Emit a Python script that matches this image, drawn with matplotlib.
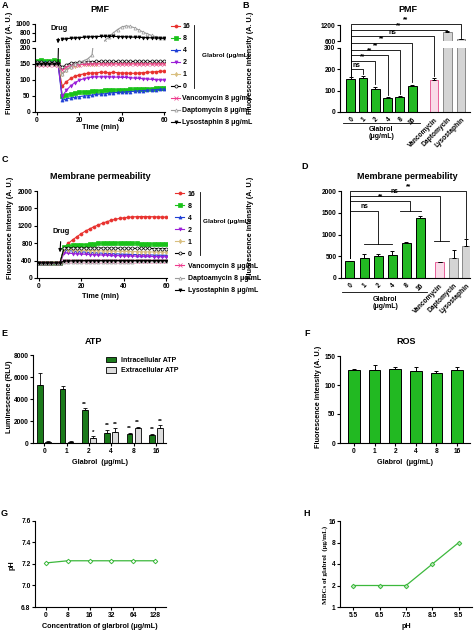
import numpy as np
import matplotlib
matplotlib.use("Agg")
import matplotlib.pyplot as plt
import matplotlib.transforms as mtransforms
from matplotlib.lines import Line2D

plt.rcParams["font.family"] = ["Liberation Sans", "DejaVu Sans"]
plt.rcParams["font.weight"] = "bold"
plt.rcParams["axes.linewidth"] = 0.8
plt.rcParams["xtick.major.width"] = 0.8
plt.rcParams["ytick.major.width"] = 0.8
plt.rcParams["xtick.major.size"] = 2
plt.rcParams["ytick.major.size"] = 2
plt.rcParams["xtick.major.pad"] = 1.5
plt.rcParams["ytick.major.pad"] = 1.2
plt.rcParams["xtick.labelsize"] = 4.8
plt.rcParams["ytick.labelsize"] = 4.8

# ---------------- data ----------------
time_min = [0, 2, 4, 6, 8, 10, 12, 14, 16, 18, 20, 22, 24, 26, 28, 30,
            32, 34, 36, 38, 40, 42, 44, 46, 48, 50, 52, 54, 56, 58, 60]

# A: PMF kinetics
pmf_16 = [150,151,150,151,150,149, 80,95,105,112,116,119,121,122,123,124,124,123,124,123,122,122,121,121,122,123,124,125,126,127,128]
pmf_8 = [160,161,160,160,161,158, 50,54,57,59,61,63,64,65,66,67,68,68,69,69,70,70,71,71,72,72,73,73,74,74,75]
pmf_4 = [155,156,155,155,156,153, 37,41,44,46,48,50,51,53,55,56,57,59,60,61,62,63,64,65,66,67,68,69,70,71,72]
pmf_2 = [152,152,151,152,151,150, 50,68,82,92,99,104,107,109,110,110,110,110,109,109,108,108,107,106,105,104,103,102,101,101,100]
pmf_1 = [150,150,149,150,150,148, 120,132,140,144,147,149,150,151,151,152,152,152,152,152,152,152,152,152,152,152,152,152,152,152,152]
pmf_0 = [155,155,154,155,155,153, 140,148,152,154,155,156,157,157,158,158,158,158,158,158,158,158,158,158,158,158,158,158,158,158,158]
pmf_vanco = [148,148,147,148,148,146, 130,140,145,147,148,149,149,150,150,150,150,150,150,150,150,150,150,150,150,150,150,150,150,150,150]
pmf_dapto = [150,150,150,150,150,149, 118,132,142,150,155,160,166,178,300,460,610,700,790,870,930,955,945,910,860,810,770,730,700,680,665]
pmf_lyso = [150,150,150,150,150,150, 640,655,665,672,680,688,695,700,705,708,710,710,708,705,702,698,694,690,686,682,678,674,670,666,662]

# C: membrane permeability kinetics
mp_16 = [345,346,344,345,346,345, 700,800,880,950,1020,1080,1130,1180,1220,1260,1295,1325,1350,1370,1385,1395,1405,1410,1412,1412,1410,1408,1405,1402,1400]
mp_8 = [350,350,349,350,351,350, 720,740,750,755,760,768,775,785,795,800,805,808,810,810,808,805,800,797,793,790,786,782,778,775,772]
mp_4 = [348,347,348,347,348,348, 640,630,620,610,602,595,588,582,576,570,565,560,556,552,548,545,541,538,535,532,530,528,526,524,522]
mp_2 = [346,346,345,346,346,346, 580,570,562,555,550,545,540,536,532,528,524,520,517,514,511,508,505,502,500,498,496,494,492,490,488]
mp_1 = [352,352,351,352,352,352, 660,655,650,645,640,636,632,628,625,622,620,618,616,614,612,610,608,606,604,602,600,598,596,594,592]
mp_0 = [350,350,350,350,350,350, 700,695,692,690,690,690,690,690,690,690,688,688,686,686,684,684,682,682,680,680,680,678,678,676,676]
mp_vanco = [344,344,343,344,344,344, 380,382,383,384,385,385,386,386,386,386,386,386,386,386,386,386,386,386,386,386,386,386,386,386,386]
mp_dapto = [342,342,342,342,342,342, 370,372,373,374,375,376,376,377,377,378,378,378,378,378,379,379,379,380,380,380,380,380,380,380,380]
mp_lyso = [348,348,348,348,348,348, 390,395,398,400,400,401,402,402,402,402,402,402,402,402,402,402,402,402,402,402,402,402,402,402,402]

# B / D: end-point bars
bar_labels = ["0", "1", "2", "4", "8", "16", "Vancomycin", "Daptomycin", "Lysostaphin"]
pmf_bar = [155, 158, 107, 65, 70, 123, 150, 950, 660]
pmf_err = [7, 10, 10, 4, 4, 5, 8, 30, 30]
pmf_sig = ["ns", "**", "**", "**", "**", "ns", "**", "**"]
mp_bar = [380, 460, 510, 540, 810, 1390, 360, 460, 740]
mp_err = [20, 90, 50, 70, 20, 40, 10, 180, 150]

# E: ATP
dose_labels = ["0", "1", "2", "4", "8", "16"]
atp_intra = [5270, 4880, 3000, 940, 850, 700]
atp_intra_err = [1120, 300, 150, 240, 100, 130]
atp_extra = [130, 110, 480, 1030, 1330, 1400]
atp_extra_err = [60, 50, 120, 300, 150, 200]
atp_intra_sig = ["", "", "**", "**", "**", "**"]
atp_extra_sig = ["", "", "*", "**", "**", "**"]

# F: ROS
ros = [126, 126, 128, 125, 121, 126]
ros_err = [2, 8, 3, 6, 3, 5]

# G: pH vs glabrol
ph_conc = ["0", "8", "16", "32", "64", "128"]
ph_val = [7.21, 7.23, 7.23, 7.23, 7.23, 7.23]

# H: MBC vs pH
mbc_ph = [5.5, 6.5, 7.5, 8.5, 9.5]
mbc_val = [2, 2, 2, 4, 8]

# ---------------- figure ----------------
W, H = 474, 631
fig = plt.figure(figsize=(W / 100, H / 100), dpi=100)


def box(l, t, r, b):
    return [l / W, 1 - b / H, (r - l) / W, (b - t) / H]


def ftext(x, y, s, **kw):
    kw.setdefault("ha", "center")
    kw.setdefault("va", "center")
    fig.text(x / W, 1 - y / H, s, **kw)


def prism(ax, bottom=True):
    ax.spines["top"].set_visible(False)
    ax.spines["right"].set_visible(False)
    if not bottom:
        ax.spines["bottom"].set_visible(False)
        ax.tick_params(axis="x", bottom=False, labelbottom=False)
    ax.tick_params(direction="out")


green = "#22b922"
series_names = ["16", "8", "4", "2", "1", "0"]
ctrl_names_a = ["Vancomycin 8 \u03bcg/mL", "Daptomycin 8 \u03bcg/mL", "Lysostaphin 8 \u03bcg/mL"]
ctrl_names_c = ["Vancomycin 8 \u03bcg/mL", "Daptoamycin 8 \u03bcg/mL", "Lysostaphin 8 \u03bcg/mL"]
styles = [
    dict(color="#e8322f", marker="o", mfc="#e8322f"),
    dict(color="#19c219", marker="s", mfc="#19c219"),
    dict(color="#1f3fd6", marker="^", mfc="#1f3fd6"),
    dict(color="#9b1fd8", marker="v", mfc="#9b1fd8"),
    dict(color="#d9bf80", marker="d", mfc="#d9bf80"),
    dict(color="black", marker="o", mfc="white"),
    dict(color="#ee3b8e", marker="x", mfc="#ee3b8e"),
    dict(color="#9a9a9a", marker="^", mfc="white"),
    dict(color="black", marker="v", mfc="black"),
]

# ---------- A ----------
pmf_series = [pmf_16, pmf_8, pmf_4, pmf_2, pmf_1, pmf_0, pmf_vanco, pmf_dapto, pmf_lyso]
ax_at = fig.add_axes(box(35, 24, 165, 41))
ax_ab = fig.add_axes(box(35, 48, 165, 112))
ax_at.patch.set_visible(False)
handles = []
for ys, st in zip(pmf_series, styles):
    for ax in (ax_at, ax_ab):
        ln, = ax.plot(time_min, ys, lw=0.8, ms=2.2, mew=0.5, **st)
    handles.append(ln)
for ax in (ax_at, ax_ab):
    ax.set_xlim(-0.8, 60.3)
ax_at.set_ylim(600, 1000)
ax_at.set_yticks([600, 800, 1000])
ax_ab.set_ylim(0, 200)
ax_ab.set_yticks([0, 50, 100, 150, 200])
ax_ab.set_xticks([0, 20, 40, 60])
prism(ax_at, bottom=False)
prism(ax_ab)
ax_at.annotate("Drug", xy=(10, 545), xytext=(10.4, 890), ha="center", va="center",
               fontsize=5.3, annotation_clip=False,
               arrowprops=dict(arrowstyle="-|>,head_width=0.18,head_length=0.35",
                               color="black", lw=0.8, shrinkA=2.5, shrinkB=0))
ax_ab.legend(handles, series_names + ctrl_names_a, loc="upper left",
             bbox_to_anchor=(171 / W, 1 - 23.5 / H), bbox_transform=fig.transFigure,
             frameon=False, fontsize=5, handlelength=1.3, handletextpad=0.35,
             labelspacing=0.71, borderpad=0, borderaxespad=0)
fig.add_artist(Line2D([194 / W, 194 / W], [1 - 25 / H, 1 - 88 / H], color="black", lw=0.6))
ftext(202, 55, "Glabrol (\u03bcg/mL)", ha="left", fontsize=4.6)
ftext(100, 10, "PMF", fontsize=6.5)
ftext(5, 5, "A", fontsize=6.5)
ftext(10, 63, "Fluorescence intensity (A. U.)", rotation=90, fontsize=5.2)
ftext(100, 127, "Time (min)", fontsize=5.2)

# ---------- C ----------
mp_series = [mp_16, mp_8, mp_4, mp_2, mp_1, mp_0, mp_vanco, mp_dapto, mp_lyso]
ax_c = fig.add_axes(box(37, 191, 167, 278))
handles = []
for ys, st in zip(mp_series, styles):
    ln, = ax_c.plot(time_min, ys, lw=0.8, ms=2.2, mew=0.5, **st)
    handles.append(ln)
ax_c.set_xlim(-0.8, 60.3)
ax_c.set_ylim(0, 2000)
ax_c.set_yticks([0, 400, 800, 1200, 1600, 2000])
ax_c.set_xticks([0, 20, 40, 60])
prism(ax_c)
ax_c.annotate("Drug", xy=(10, 590), xytext=(10.6, 1060), ha="center", va="center",
              fontsize=5.3, annotation_clip=False,
              arrowprops=dict(arrowstyle="-|>,head_width=0.18,head_length=0.35",
                              color="black", lw=0.8, shrinkA=2.5, shrinkB=0))
ax_c.legend(handles, series_names + ctrl_names_c, loc="upper left",
            bbox_to_anchor=(175 / W, 1 - 190.5 / H), bbox_transform=fig.transFigure,
            frameon=False, fontsize=5, handlelength=1.3, handletextpad=0.5,
            labelspacing=0.73, borderpad=0, borderaxespad=0)
fig.add_artist(Line2D([200 / W, 200 / W], [1 - 192 / H, 1 - 255 / H], color="black", lw=0.6))
ftext(203, 222, "Glabrol (\u03bcg/mL)", ha="left", fontsize=4.6)
ftext(100, 176, "Membrane permeability", fontsize=6.5)
ftext(5, 160, "C", fontsize=6.5)
ftext(11, 228, "Fluorescence intensity (A. U.)", rotation=90, fontsize=5.2)
ftext(100, 296, "Time (min)", fontsize=5.2)

# ---------- B ----------
bx = [0, 1, 2, 3, 4, 5, 6.77, 7.85, 8.97]
fills = [green] * 6 + ["#f9dbe8", "#d4d4d4", "#d4d4d4"]
edges = ["black"] * 6 + ["#e8609a", "#8a8a8a", "#8a8a8a"]
ax_bt = fig.add_axes(box(340, 25, 470, 41))
ax_bb = fig.add_axes(box(340, 48, 470, 112))
ax_bt.patch.set_visible(False)
for ax in (ax_bt, ax_bb):
    ax.bar(bx, pmf_bar, width=0.72, color=fills, edgecolor=edges, linewidth=0.7)
    ax.errorbar(bx, pmf_bar, yerr=[[0] * 9, pmf_err], fmt="none", ecolor="black",
                elinewidth=0.7, capsize=1.6, capthick=0.7)
    ax.set_xlim(-0.87, 9.7)
ax_bt.set_ylim(600, 1200)
ax_bt.set_yticks([600, 1200])
ax_bb.set_ylim(0, 300)
ax_bb.set_yticks([0, 100, 200, 300])
ax_bb.set_xticks(bx)
ax_bb.set_xticklabels(bar_labels, rotation=45, ha="right", rotation_mode="anchor")
ax_bb.tick_params(axis="x", length=0, pad=3)
prism(ax_bt, bottom=False)
prism(ax_bb)


def low_units(v):
    d = ax_bt.transData.transform((0, v))
    return ax_bb.transData.inverted().transform(d)[1]


b_levels = [201, 239, 267, 291, 323, 356, 384, 412]
for k, (lev, lab) in enumerate(zip(b_levels, pmf_sig)):
    j = k + 1
    top = pmf_bar[j] + pmf_err[j]
    end = top + 12 if top < 300 else low_units(top) + 4
    ax_bb.plot([bx[0], bx[0], bx[j], bx[j]], [pmf_bar[0] + pmf_err[0] + 8, lev, lev, end],
               color="black", lw=0.6, clip_on=False, zorder=5)
    ax_bb.text(bx[j] / 2, lev + 2, lab, ha="center", va="bottom", fontsize=4.8)
tb = mtransforms.blended_transform_factory(ax_bb.transData, ax_bb.transAxes)
ax_bb.plot([-0.63, 5.63], [-0.172, -0.172], color="black", lw=0.6, transform=tb, clip_on=False)
ax_bb.text(2.5, -0.27, "Glabrol", transform=tb, ha="center", va="center", fontsize=5)
ax_bb.text(2.5, -0.39, "(\u03bcg/mL)", transform=tb, ha="center", va="center", fontsize=5)
ftext(408, 10, "PMF", fontsize=6.5)
ftext(246, 5, "B", fontsize=6.5)
ftext(251, 63, "Fluorescence intensity (A. U.)", rotation=90, fontsize=5.2)

# ---------- D ----------
dx = [0, 1, 2, 3, 4, 5, 6.4, 7.38, 8.3]
ax_d = fig.add_axes(box(341, 191, 470, 278))
ax_d.bar(dx, mp_bar, width=0.64, color=fills, edgecolor=edges, linewidth=0.7)
ax_d.errorbar(dx, mp_bar, yerr=[[0] * 9, mp_err], fmt="none", ecolor="black",
              elinewidth=0.7, capsize=1.6, capthick=0.7)
ax_d.set_xlim(-0.64, 8.55)
ax_d.set_ylim(0, 2000)
ax_d.set_yticks([0, 500, 1000, 1500, 2000])
ax_d.set_xticks(dx)
ax_d.set_xticklabels(bar_labels, rotation=45, ha="right", rotation_mode="anchor")
ax_d.tick_params(axis="x", length=0, pad=3)
prism(ax_d)
# bar 0 against groups: (level, drop x, drop end, group span, label)
d_brackets = [
    (1540, 2.0, 780, (1.0, 3.0), "ns"),
    (1777, 4.3, 1550, (3.55, 5.05), "**"),
    (1885, 6.38, 850, (6.0, 7.05), "ns"),
    (2007, 8.3, 920, None, "**"),
]
for lev, xd, yd, span, lab in d_brackets:
    ax_d.plot([dx[0], dx[0], xd, xd], [mp_bar[0] + mp_err[0] + 70, lev, lev, yd],
              color="black", lw=0.6, clip_on=False, zorder=5)
    if span:
        ax_d.plot(span, [yd, yd], color="black", lw=0.6, clip_on=False)
    ax_d.text(xd / 2, lev + 15, lab, ha="center", va="bottom", fontsize=4.8)
td = mtransforms.blended_transform_factory(ax_d.transData, ax_d.transAxes)
ax_d.plot([-0.55, 5.52], [-0.16, -0.16], color="black", lw=0.6, transform=td, clip_on=False)
ax_d.text(2.5, -0.245, "Glabrol", transform=td, ha="center", va="center", fontsize=5)
ax_d.text(2.5, -0.325, "(\u03bcg/mL)", transform=td, ha="center", va="center", fontsize=5)
ftext(407, 176, "Membrane permeability", fontsize=6.5)
ftext(305, 166, "D", fontsize=6.5)
ftext(251, 228, "Fluorescence intensity (A. U.)", rotation=90, fontsize=5.2)

# ---------- E ----------
ex = np.arange(len(dose_labels))
ax_e = fig.add_axes(box(33, 355, 166, 443))
ax_e.bar(ex - 0.18, atp_intra, width=0.26, color="#1b7a1b", edgecolor="black",
         linewidth=0.6, label="Intracellular ATP")
ax_e.bar(ex + 0.18, atp_extra, width=0.26, color="#dcdcdc", edgecolor="black",
         linewidth=0.6, label="Extracellular ATP")
ax_e.errorbar(ex - 0.18, atp_intra, yerr=[[0] * 6, atp_intra_err], fmt="none",
              ecolor="black", elinewidth=0.6, capsize=1.2, capthick=0.6)
ax_e.errorbar(ex + 0.18, atp_extra, yerr=[[0] * 6, atp_extra_err], fmt="none",
              ecolor="black", elinewidth=0.6, capsize=1.2, capthick=0.6)
for i in range(len(dose_labels)):
    ax_e.text(ex[i] - 0.18, atp_intra[i] + atp_intra_err[i] + 150, atp_intra_sig[i],
              ha="center", va="bottom", fontsize=4.5)
    ax_e.text(ex[i] + 0.18, atp_extra[i] + atp_extra_err[i] + 150, atp_extra_sig[i],
              ha="center", va="bottom", fontsize=4.5)
ax_e.set_xlim(-0.5, 5.45)
ax_e.set_ylim(0, 8000)
ax_e.set_yticks([0, 2000, 4000, 6000, 8000])
ax_e.set_xticks(ex)
ax_e.set_xticklabels(dose_labels)
prism(ax_e)
ax_e.legend(loc="upper left", bbox_to_anchor=(106 / W, 1 - 357 / H),
            bbox_transform=fig.transFigure, frameon=False, fontsize=5,
            handlelength=1.5, handleheight=0.8, handletextpad=0.6,
            labelspacing=0.45, borderpad=0, borderaxespad=0)
ftext(93, 342, "ATP", fontsize=6.5)
ftext(4, 333, "E", fontsize=6.5)
ftext(10, 397, "Luminescence (RLU)", rotation=90, fontsize=5.2)
ftext(100, 463, "Glabrol  (\u03bcg/mL)", fontsize=5.2)

# ---------- F ----------
fx = np.arange(len(dose_labels))
ax_f = fig.add_axes(box(340, 356, 470, 443))
ax_f.bar(fx, ros, width=0.57, color=green, edgecolor="black", linewidth=0.7)
ax_f.errorbar(fx, ros, yerr=[[0] * 6, ros_err], fmt="none", ecolor="black",
              elinewidth=0.7, capsize=1.6, capthick=0.7)
ax_f.set_xlim(-0.68, 5.63)
ax_f.set_ylim(0, 150)
ax_f.set_yticks([0, 50, 100, 150])
ax_f.set_xticks(fx)
ax_f.set_xticklabels(dose_labels)
prism(ax_f)
ftext(406, 341, "ROS", fontsize=6.5)
ftext(307, 333, "F", fontsize=6.5)
ftext(318, 397, "Fluorescence intensity (A. U.)", rotation=90, fontsize=5.2)
ftext(405, 463, "Glabrol  (\u03bcg/mL)", fontsize=5.2)

# ---------- G ----------
gx = np.arange(len(ph_conc))
ax_g = fig.add_axes(box(35, 521, 166, 607))
ax_g.plot(gx, ph_val, color="#3cb83c", lw=0.9, marker="D", ms=2.3, mfc="white", mew=0.7)
ax_g.set_xlim(-0.5, 5.5)
ax_g.set_ylim(6.8, 7.6)
ax_g.set_yticks([6.8, 7.0, 7.2, 7.4, 7.6])
ax_g.set_xticks(gx)
ax_g.set_xticklabels(ph_conc)
prism(ax_g)
ftext(4, 513, "G", fontsize=6.5)
ftext(12, 565, "pH", rotation=90, fontsize=5.2)
ftext(100, 626, "Concentration of glarbrol (\u03bcg/mL)", fontsize=5.2)

# ---------- H ----------
ax_h = fig.add_axes(box(340, 521, 472, 607))
ax_h.plot(mbc_ph, mbc_val, color="#3cb83c", lw=0.9, marker="D", ms=2.3, mfc="#bfe8bf", mew=0.7)
ax_h.set_yscale("log", base=2)
ax_h.set_ylim(1, 16)
ax_h.set_yticks([1, 2, 4, 8, 16])
ax_h.set_yticklabels(["1", "2", "4", "8", "16"])
ax_h.yaxis.set_minor_locator(matplotlib.ticker.NullLocator())
ax_h.set_xlim(5.0, 10.0)
ax_h.set_xticks(mbc_ph)
prism(ax_h)
ftext(307, 513, "H", fontsize=6.5)
ftext(325, 565, "MBCs of glabrol  (\u03bcg/mL)", rotation=90, fontsize=5,
      family=["Liberation Serif", "DejaVu Serif"])
ftext(406, 626, "pH", fontsize=5.2)

fig.savefig("out.png", dpi=100)
